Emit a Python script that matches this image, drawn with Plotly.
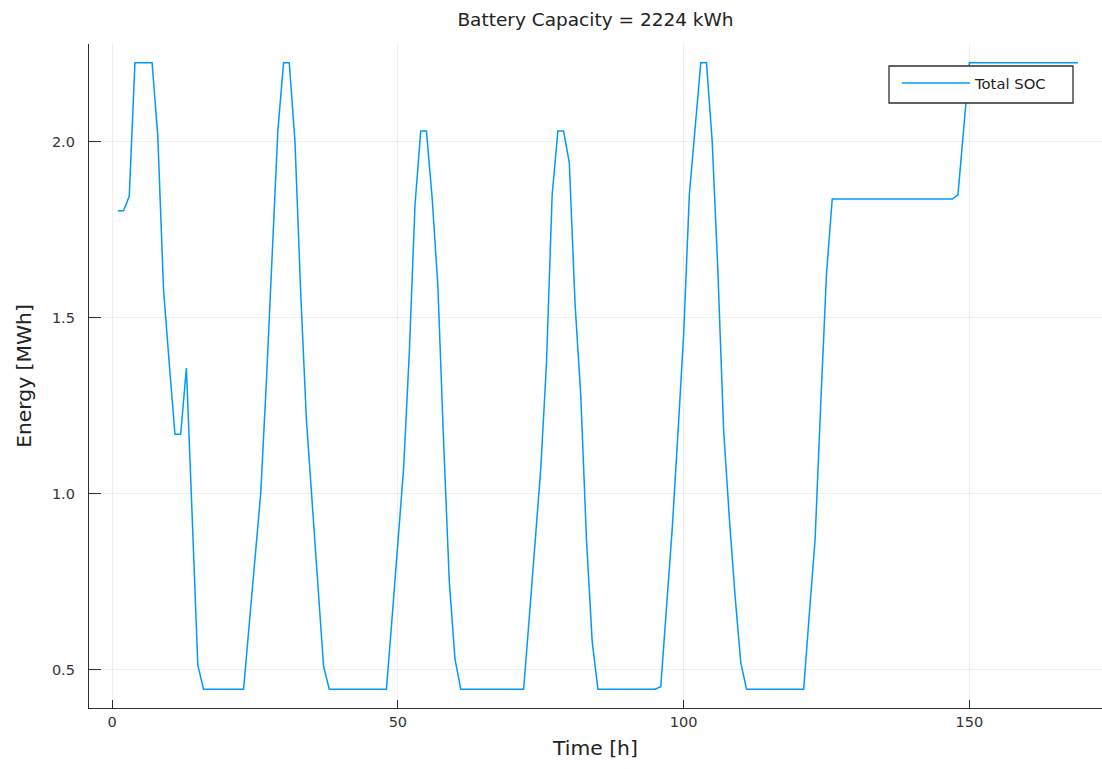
import plotly.graph_objects as go

# ---- data ----
hours = list(range(1, 170))  # hourly time steps 1..169

soc_mwh = [
    1.804, 1.804, 1.845, 2.224, 2.224, 2.224, 2.224, 2.015, 1.580, 1.370,
    1.169, 1.169, 1.357, 0.940, 0.513, 0.4448, 0.4448, 0.4448, 0.4448, 0.4448,
    0.4448, 0.4448, 0.4448, 0.630, 0.820, 1.000, 1.320, 1.680, 2.030, 2.224,
    2.224, 2.000, 1.570, 1.210, 0.980, 0.730, 0.510, 0.4448, 0.4448, 0.4448,
    0.4448, 0.4448, 0.4448, 0.4448, 0.4448, 0.4448, 0.4448, 0.4448, 0.650, 0.860,
    1.070, 1.400, 1.820, 2.030, 2.030, 1.840, 1.590, 1.150, 0.750, 0.530,
    0.4448, 0.4448, 0.4448, 0.4448, 0.4448, 0.4448, 0.4448, 0.4448, 0.4448, 0.4448,
    0.4448, 0.4448, 0.650, 0.850, 1.070, 1.370, 1.850, 2.030, 2.030, 1.940,
    1.540, 1.280, 0.870, 0.580, 0.4448, 0.4448, 0.4448, 0.4448, 0.4448, 0.4448,
    0.4448, 0.4448, 0.4448, 0.4448, 0.4448, 0.452, 0.670, 0.900, 1.170, 1.450,
    1.850, 2.040, 2.224, 2.224, 2.000, 1.630, 1.180, 0.930, 0.710, 0.520,
    0.4448, 0.4448, 0.4448, 0.4448, 0.4448, 0.4448, 0.4448, 0.4448, 0.4448, 0.4448,
    0.4448, 0.660, 0.870, 1.260, 1.625, 1.837, 1.837, 1.837, 1.837, 1.837,
    1.837, 1.837, 1.837, 1.837, 1.837, 1.837, 1.837, 1.837, 1.837, 1.837,
    1.837, 1.837, 1.837, 1.837, 1.837, 1.837, 1.837, 1.849, 2.030, 2.224,
    2.224, 2.224, 2.224, 2.224, 2.224, 2.224, 2.224, 2.224, 2.224, 2.224,
    2.224, 2.224, 2.224, 2.224, 2.224, 2.224, 2.224, 2.224, 2.224,
]

x_ticks = [0, 50, 100, 150]
y_ticks = [0.5, 1.0, 1.5, 2.0]
y_tick_labels = ["0.5", "1.0", "1.5", "2.0"]

title_text = "Battery Capacity = 2224 kWh"
series_name = "Total SOC"

# ---- figure ----
FONT = "DejaVu Sans"
AX = "#2e2e2e"
GRID = "rgba(0,0,0,0.065)"

W, H = 1102, 769
ML, MR, MT, MB = 89, 0, 44, 61
PW, PH = W - ML - MR, H - MT - MB


def px_x(p):
    return (p - ML) / PW


def px_y(p):
    return (H - MB - p) / PH


fig = go.Figure()
fig.add_trace(go.Scatter(
    x=hours, y=soc_mwh, mode="lines", name=series_name,
    line=dict(color="#009AFA", width=1.5),
    showlegend=True,
))

# legend frame (drawn above the data line, like the reference)
fig.add_shape(type="rect", xref="paper", yref="paper",
              x0=px_x(889), x1=px_x(1073), y0=px_y(103), y1=px_y(66),
              fillcolor="white", line=dict(color=AX, width=1.3), layer="above")

fig.update_layout(
    width=W, height=H,
    margin=dict(l=ML, r=MR, t=MT, b=MB),
    paper_bgcolor="white", plot_bgcolor="white",
    font=dict(family=FONT, color="#222222"),
    title=dict(text=title_text, x=0.5, xref="paper", y=1 - 20 / H,
               yanchor="middle", xanchor="center",
               font=dict(family=FONT, size=18.5, color="#222222")),
    legend=dict(x=px_x(897), y=px_y(67),
                xanchor="left", yanchor="top",
                bgcolor="rgba(0,0,0,0)", borderwidth=0,
                font=dict(family=FONT, size=14.8, color="#222222"),
                itemwidth=68),
)

fig.update_xaxes(
    range=[-4.04, 173.2], tickvals=x_ticks,
    ticks="inside", ticklen=8, tickwidth=1.2, tickcolor=AX,
    showline=True, linecolor=AX, linewidth=1.3, mirror=False,
    showgrid=True, gridcolor=GRID, gridwidth=1, zeroline=False,
    tickfont=dict(family=FONT, size=14.5, color="#333333"),
    title=dict(text="Time [h]", font=dict(family=FONT, size=20.3, color="#222222"), standoff=12),
)
fig.update_yaxes(
    range=[0.3914, 2.2774], tickvals=y_ticks, ticktext=y_tick_labels,
    ticks="inside", ticklen=12, tickwidth=1.2, tickcolor=AX,
    showline=True, linecolor=AX, linewidth=1.3, mirror=False,
    showgrid=True, gridcolor=GRID, gridwidth=1, zeroline=False,
    tickfont=dict(family=FONT, size=14.5, color="#333333"),
    ticklabelstandoff=10,
    title=dict(text="Energy [MWh]", font=dict(family=FONT, size=20.3, color="#222222"), standoff=14),
)

fig.write_html("out.html")
